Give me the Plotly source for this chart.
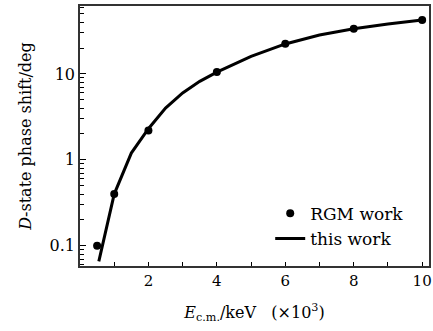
import plotly.graph_objects as go

# RGM work points
rgm_x = [0.5, 1, 2, 4, 6, 8, 10]
rgm_y = [0.1, 0.4, 2.2, 10.5, 22.5, 33.5, 42.5]

# this work curve
line_x = [0.55, 1, 1.5, 2, 2.5, 3, 3.5, 4, 5, 6, 7, 8, 9, 10]
line_y = [0.066, 0.4, 1.2, 2.3, 4.0, 6.0, 8.2, 10.5, 16.0, 22.3, 28.3, 33.5, 38, 42.5]

x_ticks = [2, 4, 6, 8, 10]
x_minor = [1, 3, 5, 7, 9]
y_ticks = [0.1, 1, 10]
y_tick_text = ["0.1", "1", "10"]
y_minor = [0.06, 0.07, 0.08, 0.09, 0.2, 0.3, 0.4, 0.5, 0.6, 0.7, 0.8, 0.9,
           2, 3, 4, 5, 6, 7, 8, 9, 20, 30, 40, 50, 60]

font = "DejaVu Serif"

fig = go.Figure()
fig.add_trace(go.Scatter(x=rgm_x, y=rgm_y, mode="markers", name="RGM work",
                         marker=dict(color="black", size=8)))
fig.add_trace(go.Scatter(x=line_x, y=line_y, mode="lines", name="this work",
                         line=dict(color="black", width=3)))

fig.update_layout(
    width=433, height=331,
    margin=dict(l=80, r=4, t=6, b=65, autoexpand=False),
    paper_bgcolor="white", plot_bgcolor="white",
    font=dict(family=font, size=16, color="black"),
    showlegend=True,
    legend=dict(x=0.545, y=0.27, xanchor="left", yanchor="top",
                bgcolor="rgba(0,0,0,0)", font=dict(family=font, size=17),
                itemwidth=30, tracegroupgap=0),
)
fig.update_xaxes(
    range=[0, 10.2], tickvals=x_ticks, ticks="inside", ticklen=4,
    tickcolor="black", tickwidth=1, automargin=False,
    showline=True, linecolor="#333", linewidth=1.5, mirror=True,
    showgrid=False, zeroline=False,
    minor=dict(tickvals=x_minor, ticks="inside", ticklen=4, tickcolor="black", tickwidth=1),
    tickfont=dict(family=font, size=15),
    title=dict(text="<i>E</i><sub>c.m.</sub>/keV   (×10<sup>3</sup>)",
               font=dict(family=font, size=16), standoff=18),
)
fig.update_yaxes(
    type="log", range=[-1.235, 1.79], tickvals=y_ticks, ticktext=y_tick_text,
    ticks="inside", ticklen=6, tickcolor="black", tickwidth=1, automargin=False,
    showline=True, linecolor="#333", linewidth=1.5, mirror=True,
    showgrid=False, zeroline=False,
    minor=dict(tickvals=y_minor, ticks="inside", ticklen=4, tickcolor="black", tickwidth=1, showgrid=False),
    tickfont=dict(family=font, size=16),
    title=dict(text="<i>D</i>-state phase shift/deg",
               font=dict(family=font, size=16), standoff=14),
)

fig.write_html("out.html", config={"displayModeBar": False},
               post_script="document.body.style.margin='0';")
